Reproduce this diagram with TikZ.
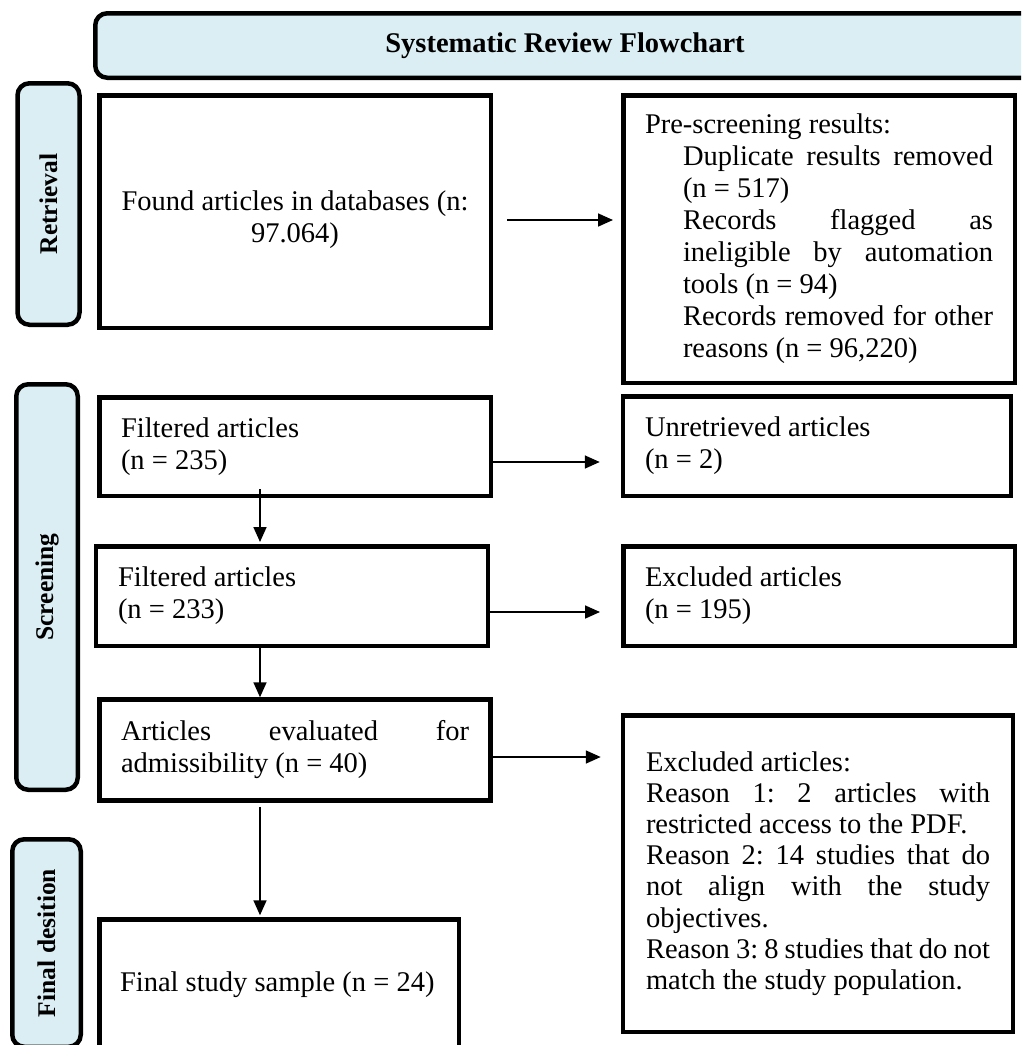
\documentclass[tikz,border=0pt]{standalone}
\usepackage{fontspec}
\setmainfont{Liberation Serif}
\usetikzlibrary{arrows.meta,positioning}

\definecolor{phaseblue}{HTML}{DAEEF3}

\begin{document}
\begin{tikzpicture}[x=1pt,y=-1pt,>={Triangle[length=15pt,width=13pt]},
        box/.style={draw,line width=4.5pt,rectangle,inner sep=0pt,text width=348pt,
            align=left,font=\fontsize{28.5}{32}\selectfont,
            execute at begin node={\spaceskip=0pt\xspaceskip=0pt\frenchspacing}},
        phase/.style={draw,line width=4.5pt,rounded corners=12pt,fill=phaseblue,
            inner sep=0pt,font=\fontsize{25.5}{30}\selectfont\bfseries},
        flow/.style={->,line width=1.7pt}]

    \useasboundingbox (0,0) rectangle (1021,1045);
    \clip (0,0) rectangle (1021,1045);

    \node[phase,minimum width=939.5pt,minimum height=64.5pt,
        font=\fontsize{28.5}{32}\selectfont\bfseries] (title) at (565,45.5) {Systematic Review Flowchart};

    \node[phase,rotate=90,minimum width=241.5pt,minimum height=62pt] (ret) at (48.5,204) {Retrieval};
    \node[phase,rotate=90,minimum width=405.5pt,minimum height=61.5pt] (scr) at (47,587) {Screening};
    \node[phase,rotate=90,minimum width=207.5pt,minimum height=68.5pt] (fin) at (46.5,943) {Final desition};

    \node[box,minimum width=391.5pt,minimum height=232.5pt] (found) at (295,211.5) {};
    \node[box,draw=none,align=center] (foundtext) at ([yshift=-8pt]found.center)
        {Found articles in databases (n:\\97.064)};
    \node[box,minimum width=391.5pt,minimum height=287.5pt] (pre) at (819,239)
        {Pre-screening results:\\
        \hspace*{38pt}\makebox[310pt][s]{Duplicate results removed}\\
        \hspace*{38pt}(n = 517)\\
        \hspace*{38pt}\makebox[310pt][s]{Records flagged as}\\
        \hspace*{38pt}\makebox[310pt][s]{ineligible by automation}\\
        \hspace*{38pt}tools (n = 94)\\
        \hspace*{38pt}\makebox[310pt][s]{Records removed for other}\\
        \hspace*{38pt}reasons (n = 96,220)};

    \node[box,minimum width=391.5pt,minimum height=98.5pt] (filt1) at (295,446.5) {Filtered articles\\(n = 235)};
    \node[box,text width=344pt,minimum width=388pt,minimum height=99.5pt] (unret) at (817,446) {Unretrieved articles\\(n = 2)};
    \node[box,minimum width=392pt,minimum height=99.5pt] (filt2) at (292,596) {Filtered articles\\(n = 233)};
    \node[box,minimum width=391.5pt,minimum height=99.5pt] (excl) at (819,596) {Excluded articles\\(n = 195)};
    \node[box,minimum width=391pt,minimum height=101pt] (eval) at (295,750)
        {\makebox[348pt][s]{Articles evaluated for}\\admissibility (n = 40)};
    \node[box,text width=344pt,minimum width=390pt,minimum height=316.5pt,
        font=\fontsize{28.5}{31.2}\selectfont] (reas) at (818,873.5)
        {Excluded articles:\\
        \makebox[344pt][s]{Reason 1: 2 articles with}\\
        restricted access to the PDF.\\
        \makebox[344pt][s]{Reason 2: 14 studies that do}\\
        \makebox[344pt][s]{not align with the study}\\
        objectives.\\
        \makebox[344pt][s]{Reason 3: 8 studies that do not}\\
        match the study population.};
    \node[box,text width=318pt,minimum width=359.5pt,minimum height=130pt] (final) at (279,984.5)
        {Final study sample (n = 24)};

    \coordinate (spine) at (260,0);
    \coordinate (a1) at ([yshift=-8.5pt]found.east);
    \coordinate (a2) at ([yshift=-15.5pt]filt1.east);
    \coordinate (a3) at ([yshift=-16pt]filt2.east);
    \coordinate (a4) at ([yshift=-7pt]eval.east);

    \draw[flow,shorten <=14pt,shorten >=8pt] (a1) -- (a1 -| pre.west);
    \draw[flow,shorten >=21pt] (a2) -- (a2 -| unret.west);
    \draw[flow,shorten >=21pt] (a3) -- (a3 -| excl.west);
    \draw[flow,shorten >=20pt] (a4) -- (a4 -| reas.west);

    \draw[flow,shorten <=-9pt,shorten >=2pt] (filt1.south -| spine) -- (filt2.north -| spine);
    \draw[flow] (filt2.south -| spine) -- (eval.north -| spine);
    \draw[flow,shorten <=4pt,shorten >=2pt] (eval.south -| spine) -- (final.north -| spine);

\end{tikzpicture}
\end{document}
